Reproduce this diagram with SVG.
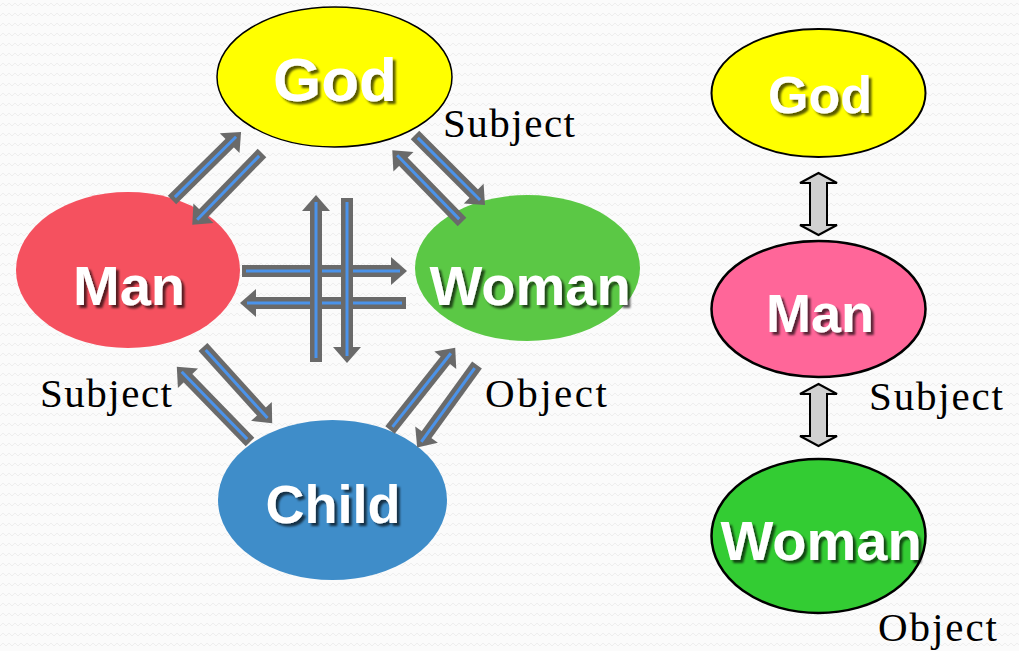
<svg xmlns="http://www.w3.org/2000/svg" width="1019" height="651" viewBox="0 0 1019 651">
<defs>
<pattern id="bgp" width="12" height="10" patternUnits="userSpaceOnUse">
<path d="M0,6 L3,3 L6,6 L9,3 L12,6" fill="none" stroke="#eeeeee" stroke-width="1"/>
</pattern>
<filter id="tsh" x="-10%" y="-10%" width="130%" height="140%">
<feDropShadow dx="3" dy="3" stdDeviation="1.2" flood-color="#000" flood-opacity="0.65"/>
</filter>
</defs>
<style>
.sh{stroke:#6a6a6a;stroke-width:12;fill:none}
.hd{fill:#6a6a6a}
.bl{stroke:#4b93ea;stroke-width:3;fill:none}
.nt{font-family:"Liberation Sans",Arial,sans-serif;font-weight:bold;fill:#ffffff;text-anchor:middle;filter:url(#tsh)}
.lb{font-family:"Liberation Serif","Times New Roman",serif;font-size:41px;fill:#000}
.da{fill:#d0d0d0;stroke:#000;stroke-width:2;stroke-linejoin:miter}
</style>
<rect width="1019" height="651" fill="#fbfbfb"/>
<rect width="1019" height="651" fill="url(#bgp)"/>

<g id="god-left">
<ellipse cx="334.5" cy="77" rx="117.5" ry="70" fill="#ffff00" stroke="#000" stroke-width="1.5"/>
<text class="nt" x="335" y="101" font-size="62">God</text>
</g>
<g id="man-left">
<ellipse cx="128" cy="270" rx="112" ry="78" fill="#f5515f"/>
<text class="nt" x="129" y="305" font-size="56">Man</text>
</g>
<g id="woman-left">
<ellipse cx="527.5" cy="268" rx="112.5" ry="73" fill="#5bc845"/>
<text class="nt" x="530" y="305" font-size="56">Woman</text>
</g>
<g id="child">
<ellipse cx="332.5" cy="500" rx="114.5" ry="80" fill="#3f8dc9"/>
<text class="nt" x="333" y="523" font-size="54">Child</text>
</g>
<g id="god-right">
<ellipse cx="818.5" cy="93" rx="107" ry="64" fill="#ffff00" stroke="#000" stroke-width="2"/>
<text class="nt" x="820" y="113" font-size="52">God</text>
</g>
<g id="man-right">
<ellipse cx="818.5" cy="309" rx="107" ry="68" fill="#ff6699" stroke="#000" stroke-width="2.5"/>
<text class="nt" x="820" y="332" font-size="54">Man</text>
</g>
<g id="woman-right">
<ellipse cx="818.5" cy="536" rx="107" ry="77" fill="#33cc33" stroke="#000" stroke-width="2.5"/>
<text class="nt" x="821" y="560" font-size="56">Woman</text>
</g>

<g id="connectors">
<g transform="translate(172,200) rotate(-44.6)"><line class="sh" x1="0" y1="0" x2="83" y2="0"/><polygon class="hd" points="81,-14 97,0 81,14"/><line class="bl" x1="4" y1="0" x2="90" y2="0"/></g>
<g transform="translate(262,153) rotate(134.2)"><line class="sh" x1="0" y1="0" x2="86" y2="0"/><polygon class="hd" points="84,-14 100,0 84,14"/><line class="bl" x1="4" y1="0" x2="93" y2="0"/></g>
<g transform="translate(415,135) rotate(45)"><line class="sh" x1="0" y1="0" x2="85" y2="0"/><polygon class="hd" points="83,-14 99,0 83,14"/><line class="bl" x1="4" y1="0" x2="92" y2="0"/></g>
<g transform="translate(462,222) rotate(-134.2)"><line class="sh" x1="0" y1="0" x2="86" y2="0"/><polygon class="hd" points="84,-14 100,0 84,14"/><line class="bl" x1="4" y1="0" x2="93" y2="0"/></g>
<g transform="translate(203,347) rotate(47.8)"><line class="sh" x1="0" y1="0" x2="89" y2="0"/><polygon class="hd" points="87,-14 103,0 87,14"/><line class="bl" x1="4" y1="0" x2="96" y2="0"/></g>
<g transform="translate(250,442) rotate(-134.2)"><line class="sh" x1="0" y1="0" x2="91" y2="0"/><polygon class="hd" points="89,-14 105,0 89,14"/><line class="bl" x1="4" y1="0" x2="98" y2="0"/></g>
<g transform="translate(390,430) rotate(-51.6)"><line class="sh" x1="0" y1="0" x2="91" y2="0"/><polygon class="hd" points="89,-14 105,0 89,14"/><line class="bl" x1="4" y1="0" x2="98" y2="0"/></g>
<g transform="translate(477,365) rotate(125.9)"><line class="sh" x1="0" y1="0" x2="88" y2="0"/><polygon class="hd" points="86,-14 102,0 86,14"/><line class="bl" x1="4" y1="0" x2="95" y2="0"/></g>
<g transform="translate(242,271)"><line class="sh" x1="0" y1="0" x2="151" y2="0"/><polygon class="hd" points="149,-14 165,0 149,14"/><line class="bl" x1="4" y1="0" x2="158" y2="0"/></g>
<g transform="translate(406,303) rotate(180)"><line class="sh" x1="0" y1="0" x2="152" y2="0"/><polygon class="hd" points="150,-14 166,0 150,14"/><line class="bl" x1="4" y1="0" x2="159" y2="0"/></g>
<g transform="translate(316,362) rotate(-90)"><line class="sh" x1="0" y1="0" x2="153" y2="0"/><polygon class="hd" points="151,-14 167,0 151,14"/><line class="bl" x1="4" y1="0" x2="160" y2="0"/></g>
<g transform="translate(347,198) rotate(90)"><line class="sh" x1="0" y1="0" x2="151" y2="0"/><polygon class="hd" points="149,-14 165,0 149,14"/><line class="bl" x1="4" y1="0" x2="158" y2="0"/></g>
<path class="da" d="M818.5,173 L837,183 L827,183 L827,225 L837,225 L818.5,235 L800,225 L810,225 L810,183 L800,183 Z"/>
<path class="da" d="M818.5,384 L837,394 L827,394 L827,436 L837,436 L818.5,446 L800,436 L810,436 L810,394 L800,394 Z"/>
</g>

<g id="labels">
<text class="lb" x="443" y="137" textLength="132" lengthAdjust="spacing">Subject</text>
<text class="lb" x="40" y="407" textLength="132" lengthAdjust="spacing">Subject</text>
<text class="lb" x="485" y="407" textLength="122" lengthAdjust="spacing">Object</text>
<text class="lb" x="869" y="410" textLength="134" lengthAdjust="spacing">Subject</text>
<text class="lb" x="878" y="641" textLength="119" lengthAdjust="spacing">Object</text>
</g>
</svg>
